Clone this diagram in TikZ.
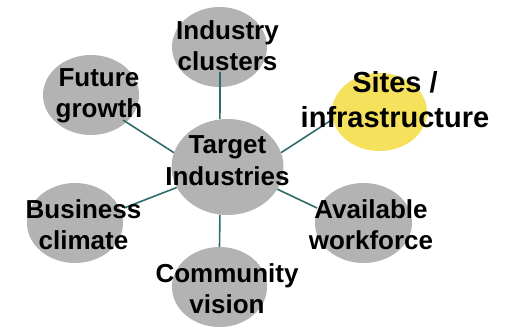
\documentclass[tikz,border=0pt]{standalone}
\usepackage{fontspec}
\setmainfont{Liberation Sans}
\usetikzlibrary{shapes.geometric}
\definecolor{bubble}{HTML}{B3B3B3}
\definecolor{sun}{HTML}{F5E15C}
\definecolor{link}{HTML}{2E6B6B}
\tikzset{
  bub/.style={ellipse, fill=bubble, draw=none, inner sep=0pt, minimum width=96pt, minimum height=80pt},
  lbl/.style={align=center, inner sep=0pt, font=\bfseries\fontsize{26}{31.5}\selectfont},
  conn/.style={draw=link, line width=1.6pt}
}
\begin{document}
\begin{tikzpicture}[x=1pt,y=-1pt]
\useasboundingbox (0,0) rectangle (506,328);
% bubbles
\node[bub, minimum width=95pt] (ind) at (219.5,47) {};
\node[bub] (fut) at (91,95) {};
\node[bub, fill=sun, minimum width=95pt, minimum height=78pt] (sit) at (379.5,112) {};
\node[bub] (bus) at (75,223) {};
\node[bub, minimum width=97pt] (ava) at (363.5,223) {};
\node[bub, minimum width=95pt] (com) at (219.5,287) {};
\node[bub, minimum width=112pt, minimum height=96pt] (tgt) at (227.5,167) {};
% connector ends
\coordinate (cInd) at (220,72);
\coordinate (cFut) at (123,120);
\coordinate (cSit) at (333,119);
\coordinate (cBus) at (124,208);
\coordinate (cAva) at (317,208);
% connectors
\draw[conn] (tgt.99) -- (cInd);
\draw[conn] (tgt.165) -- (cFut);
\draw[conn] (tgt.15) -- (cSit);
\draw[conn] (tgt.202.6) -- (cBus);
\draw[conn] (tgt.336.5) -- (cAva);
\draw[conn] (tgt.261) -- (com.north);
% labels
\node[lbl] (tInd) at (227.5,45.5) {Industry\\clusters};
\node[lbl] (tFut) at (99,95.8) {Future\\growth};
\node[lbl, font=\bfseries\fontsize{29}{35}\selectfont] (tSit) at (395,100) {Sites /\\infrastructure};
\node[lbl] (tTgt) at (227.5,160.5) {Target\\Industries};
\node[lbl] (tBus) at (83.5,224.5) {Business\\climate};
\node[lbl] (tAva) at (371,224.5) {Available\\workforce};
\node[lbl] (tCom) at (227,288.5) {Community\\vision};
\end{tikzpicture}
\end{document}
